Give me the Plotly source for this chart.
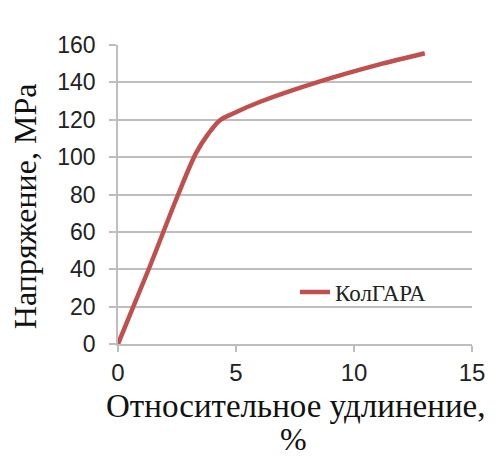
import plotly.graph_objects as go

strain = [0, 1.3, 2.55, 3.3, 3.8, 4.3, 4.9, 6.0, 8.56, 11.2, 13.0]
stress = [0, 40, 80, 102, 112, 119.5, 123.5, 129.5, 140.5, 150, 155.6]
series_name = "КолГАРА"
x_ticks = [0, 5, 10, 15]
y_ticks = [0, 20, 40, 60, 80, 100, 120, 140, 160]

grid = "#BEBEBE"
serif = "Liberation Serif, Times New Roman, serif"
sans = "Liberation Sans, Arial, sans-serif"

fig = go.Figure()
fig.add_trace(go.Scatter(
    x=strain, y=stress, mode="lines", name=series_name,
    line=dict(color="#C0504D", width=4.5, shape="spline", smoothing=0.9),
))

# page body adds an 8px offset, so figure is 8px smaller and margins shifted
fig.update_layout(
    width=491, height=449,
    margin=dict(l=110, r=27, t=37, b=113),
    paper_bgcolor="white", plot_bgcolor="white",
    showlegend=True,
    legend=dict(x=0.50, y=0.174, xanchor="left", yanchor="middle",
                font=dict(family=serif, size=23, color="#222"),
                bgcolor="rgba(0,0,0,0)"),
    xaxis=dict(range=[0, 15], tickvals=x_ticks, showgrid=False, zeroline=False,
               showline=True, linecolor=grid, linewidth=1.5,
               ticks="outside", ticklen=6, tickcolor=grid, tickwidth=1.5,
               tickfont=dict(family=sans, size=24, color="#222")),
    yaxis=dict(range=[0, 160], tickvals=y_ticks, showgrid=True, gridcolor=grid, gridwidth=1.5,
               zeroline=False, showline=True, linecolor=grid, linewidth=1.5,
               ticks="outside", ticklen=7, tickcolor=grid, tickwidth=1.5,
               ticklabelstandoff=9,
               tickfont=dict(family=sans, size=23, color="#222")),
    annotations=[
        dict(text="Напряжение, MPa", xref="paper", yref="paper", x=-0.263, y=(344 - 206) / 299.5,
             xanchor="center", yanchor="middle", textangle=-90, showarrow=False,
             font=dict(family=serif, size=32, color="#111")),
        dict(text="Относительное удлинение,", xref="paper", yref="paper", x=(295 - 118) / 354,
             y=-(406 - 344) / 299.5, xanchor="center", yanchor="middle", showarrow=False,
             font=dict(family=serif, size=33, color="#111")),
        dict(text="%", xref="paper", yref="paper", x=(293 - 118) / 354,
             y=-(439 - 344) / 299.5, xanchor="center", yanchor="middle", showarrow=False,
             font=dict(family=serif, size=32, color="#111")),
    ],
)
fig.write_html("out.html")
